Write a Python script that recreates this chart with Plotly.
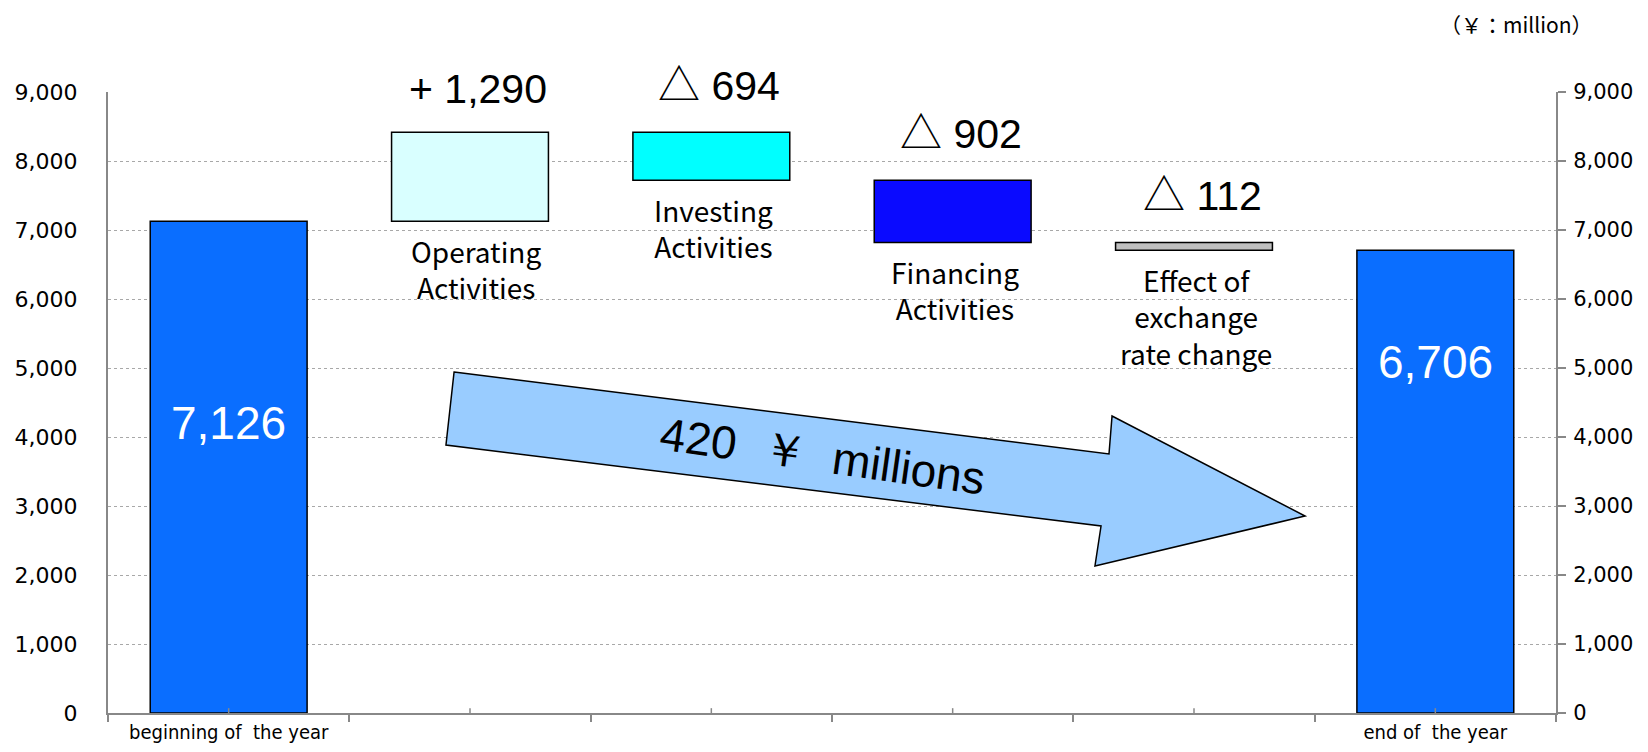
import plotly.graph_objects as go

categories = ["beginning of the year", "Operating Activities", "Investing Activities",
              "Financing Activities", "Effect of exchange rate change", "end of the year"]
axis_labels = ["beginning of  the year", "", "", "", "", "end of  the year"]
under_labels = ["", "Operating<br>Activities", "Investing<br>Activities",
                "Financing<br>Activities", "Effect of<br>exchange<br>rate change", ""]
opening = 7126
changes = [1290, -694, -902, -112]
closing = 6706
change_signs = ["+", "△", "△", "△"]
change_values = ["1,290", "694", "902", "112"]
bar_colors = ["#0A6EFF", "#D9FFFF", "#00FFFF", "#0A0AFF", "#BFBFBF", "#0A6EFF"]
net_change_text = "420  ￥  millions"
unit_text = "（￥：million）"

# build floating bars
bases = [0]
heights = [opening]
level = opening
for c in changes:
    if c >= 0:
        bases.append(level)
        heights.append(c)
    else:
        bases.append(level + c)
        heights.append(-c)
    level += c
bases.append(0)
heights.append(closing)

fig = go.Figure()
fig.add_trace(go.Bar(
    x=categories, y=heights, base=bases, width=0.65,
    marker=dict(color=bar_colors, line=dict(color="#000000", width=1.5)),
    hoverinfo="skip", showlegend=False))
fig.add_trace(go.Scatter(x=categories, y=heights, yaxis="y2", mode="markers",
                         marker=dict(opacity=0), hoverinfo="skip", showlegend=False))

ann = []
for i, c in enumerate(changes, start=1):
    top = bases[i] + heights[i]
    sign = change_signs[i - 1]
    if sign == "△":
        txt = f'<span style="font-family:Noto Sans CJK JP;font-size:42px">△</span> {change_values[i-1]}'
    else:
        txt = f"+ {change_values[i-1]}"
    ann.append(dict(x=categories[i], y=top, xref="x", yref="y", text=txt,
                    showarrow=False, yanchor="bottom", yshift=18, xshift=8,
                    font=dict(family="Liberation Sans, DejaVu Sans, sans-serif", size=41, color="#000")))
    ann.append(dict(x=categories[i], y=bases[i], xref="x", yref="y", text=under_labels[i],
                    showarrow=False, yanchor="top", yshift=-8, xshift=6 if i == 1 else 2,
                    font=dict(family="Noto Sans CJK JP, sans-serif", size=28, color="#000")))
# totals inside bars
ann.append(dict(x=categories[0], y=4200, xref="x", yref="y", text=f"{opening:,}",
                showarrow=False, font=dict(family="Liberation Sans, sans-serif", size=46, color="#FFFFFF")))
ann.append(dict(x=categories[-1], y=5090, xref="x", yref="y", text=f"{closing:,}",
                showarrow=False, font=dict(family="Liberation Sans, sans-serif", size=46, color="#FFFFFF")))
ann.append(dict(x=1.026, y=1.109, xref="paper", yref="paper", text=unit_text, showarrow=False,
                xanchor="right", yanchor="middle",
                font=dict(family="Noto Sans CJK JP, sans-serif", size=21, color="#000")))

# plot area in page pixels (page has an 8px body margin)
L, R, T, B = 108, 1556, 92, 713
OFF = 8
pts = [(454, 372), (1109, 454), (1112, 416), (1305, 516), (1095, 566), (1101, 526), (446, 445)]
def px(p):
    return ((p[0] - L) / (R - L), (B - p[1]) / (B - T))
path = "M " + " L ".join(f"{px(p)[0]:.4f},{px(p)[1]:.4f}" for p in pts) + " Z"
shapes = [dict(type="path", path=path, xref="paper", yref="paper",
               fillcolor="#99CCFF", line=dict(color="#000", width=1.5), layer="above")]
for c in categories:
    shapes.append(dict(type="line", xref="x", yref="y", x0=c, x1=c, y0=0, y1=70,
                       line=dict(color="#888", width=1.5), layer="above"))

cx, cy = px((822, 456))
ann.append(dict(x=cx, y=cy, xref="paper", yref="paper", text=net_change_text, showarrow=False,
                textangle=8, font=dict(family="Liberation Sans, sans-serif", size=46, color="#000")))

fig.update_layout(
    width=1648, height=752,
    margin=dict(l=L - OFF, r=1648 - (R - OFF), t=T - OFF, b=752 - (B - OFF), autoexpand=False),
    plot_bgcolor="#FFFFFF", paper_bgcolor="#FFFFFF",
    annotations=ann, shapes=shapes,
    xaxis=dict(type="category", categoryorder="array", categoryarray=categories,
               range=[-0.5, 5.5], tickson="boundaries", ticks="outside", ticklen=7,
               tickcolor="#888", tickwidth=1.5, automargin=False,
               tickvals=categories, ticktext=axis_labels,
               tickfont=dict(family="Liberation Sans Narrow, DejaVu Sans Condensed, Arial Narrow, sans-serif",
                             size=20, color="#000"),
               showline=True, linecolor="#888", linewidth=2, showgrid=False, zeroline=False),
    yaxis=dict(range=[0, 9000], dtick=1000, tickformat=",", showgrid=True, gridcolor="#A8A8A8",
               griddash="dot", gridwidth=1, showline=True, linecolor="#888", linewidth=2,
               ticks="", zeroline=False, ticklabelstandoff=24, automargin=False,
               tickfont=dict(family="DejaVu Sans, sans-serif", size=22, color="#000")),
    yaxis2=dict(range=[0, 9000], dtick=1000, tickformat=",", overlaying="y", side="right",
                showgrid=False, showline=True, linecolor="#888", linewidth=2, automargin=False,
                ticks="outside", ticklen=8, tickcolor="#888", tickwidth=1.5, zeroline=False,
                ticklabelstandoff=3,
                tickfont=dict(family="DejaVu Sans, sans-serif", size=21, color="#000")),
)

fig.write_html("out.html")
